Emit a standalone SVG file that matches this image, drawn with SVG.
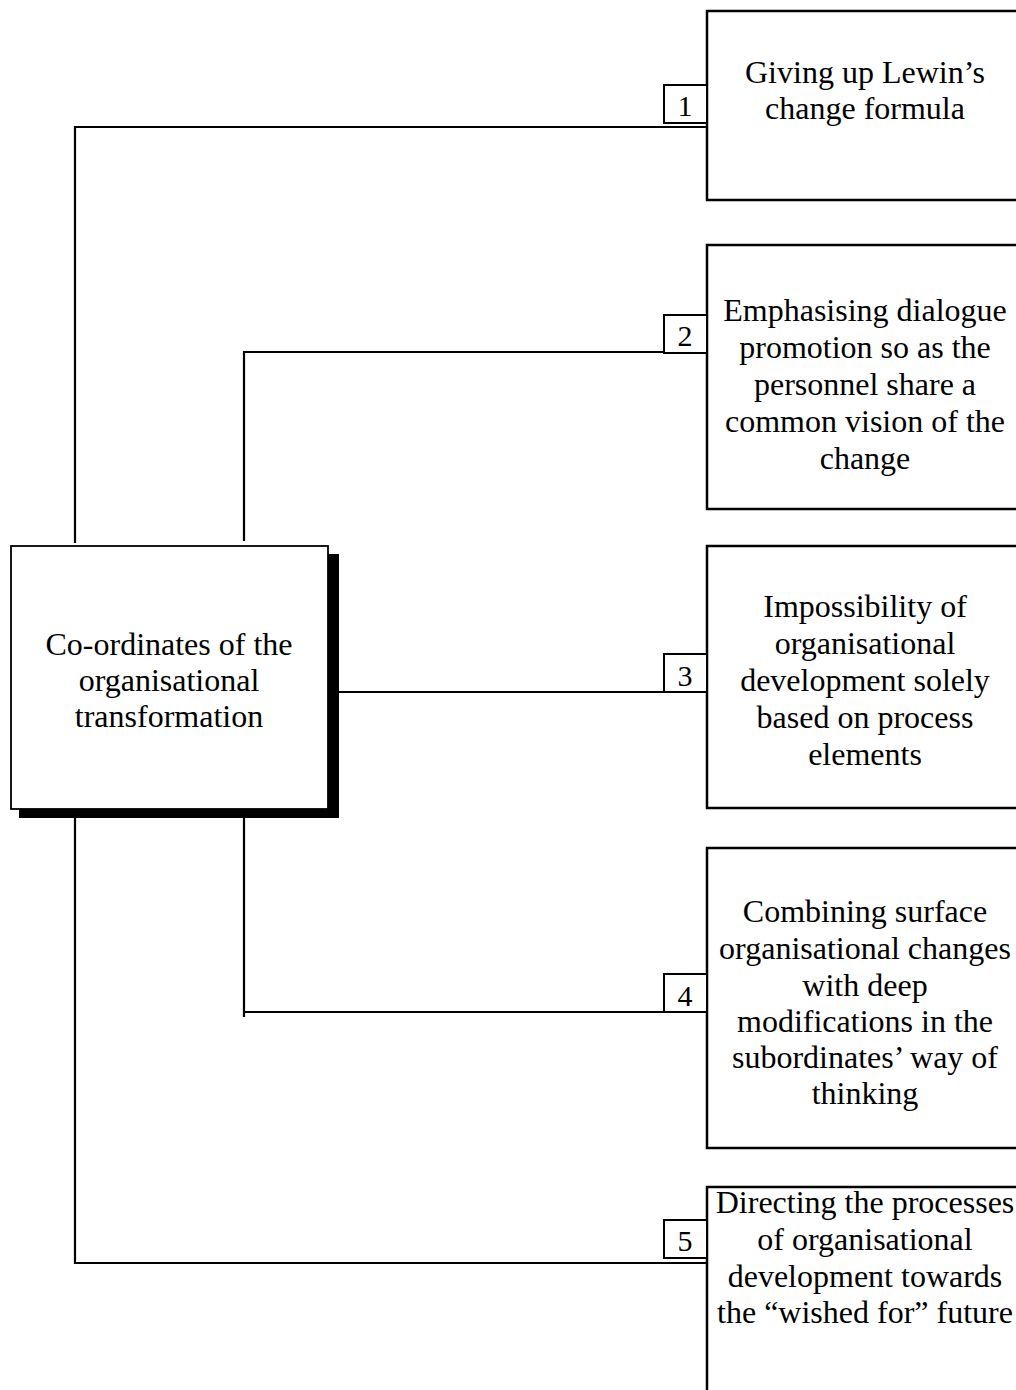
<svg xmlns="http://www.w3.org/2000/svg" width="1016" height="1390" viewBox="0 0 1016 1390">
<style>
.box{fill:#fff;stroke:#000;stroke-width:2.5}
.num{fill:#fff;stroke:#000;stroke-width:2}
.t{font-family:"Liberation Serif","Times New Roman",serif;font-size:32px;fill:#000;text-anchor:middle}
.n{font-family:"Liberation Serif","Times New Roman",serif;font-size:30px;fill:#000;text-anchor:middle}
.c{stroke:#000;stroke-width:2.2;fill:none}
</style>
<rect width="1016" height="1390" fill="#fff"/>
<g id="connectors">
<path class="c" d="M75,543 V127 H707"/>
<path class="c" d="M244,541 V352 H707"/>
<path class="c" d="M338,692 H707"/>
<path class="c" d="M244,818 V1017 M244,1012 H707"/>
<path class="c" d="M75,818 V1263 H707"/>
</g>
<g id="main">
<rect x="19" y="554" width="320" height="264" fill="#000"/>
<rect x="11" y="546" width="317" height="263" fill="#fff" stroke="#000" stroke-width="1.8"/>
<text class="t" x="169" y="655">Co-ordinates of the</text>
<text class="t" x="169" y="691">organisational</text>
<text class="t" x="169" y="727">transformation</text>
</g>
<g id="node1">
<rect class="box" x="707" y="11" width="330" height="189"/>
<rect class="num" x="664" y="85" width="43" height="38"/>
<text class="n" x="685" y="116">1</text>
<text class="t" x="865" y="83">Giving up Lewin’s</text>
<text class="t" x="865" y="119">change formula</text>
</g>
<g id="node2">
<rect class="box" x="707" y="245" width="330" height="264"/>
<rect class="num" x="664" y="315" width="43" height="38"/>
<text class="n" x="685" y="346">2</text>
<text class="t" x="865" y="321">Emphasising dialogue</text>
<text class="t" x="865" y="358">promotion so as the</text>
<text class="t" x="865" y="395">personnel share a</text>
<text class="t" x="865" y="432">common vision of the</text>
<text class="t" x="865" y="469">change</text>
</g>
<g id="node3">
<rect class="box" x="707" y="546" width="330" height="262"/>
<rect class="num" x="664" y="654" width="43" height="38"/>
<text class="n" x="685" y="686">3</text>
<text class="t" x="865" y="617">Impossibility of</text>
<text class="t" x="865" y="654">organisational</text>
<text class="t" x="865" y="691">development solely</text>
<text class="t" x="865" y="728">based on process</text>
<text class="t" x="865" y="765">elements</text>
</g>
<g id="node4">
<rect class="box" x="707" y="848" width="330" height="300"/>
<rect class="num" x="664" y="974" width="43" height="38"/>
<text class="n" x="685" y="1006">4</text>
<text class="t" x="865" y="922">Combining surface</text>
<text class="t" x="865" y="959">organisational changes</text>
<text class="t" x="865" y="996">with deep</text>
<text class="t" x="865" y="1032">modifications in the</text>
<text class="t" x="865" y="1068">subordinates’ way of</text>
<text class="t" x="865" y="1104">thinking</text>
</g>
<g id="node5">
<rect class="box" x="707" y="1187" width="330" height="230"/>
<rect class="num" x="664" y="1220" width="43" height="38"/>
<text class="n" x="685" y="1251">5</text>
<text class="t" x="865" y="1213">Directing the processes</text>
<text class="t" x="865" y="1250">of organisational</text>
<text class="t" x="865" y="1287">development towards</text>
<text class="t" x="865" y="1323">the “wished for” future</text>
</g>
</svg>
